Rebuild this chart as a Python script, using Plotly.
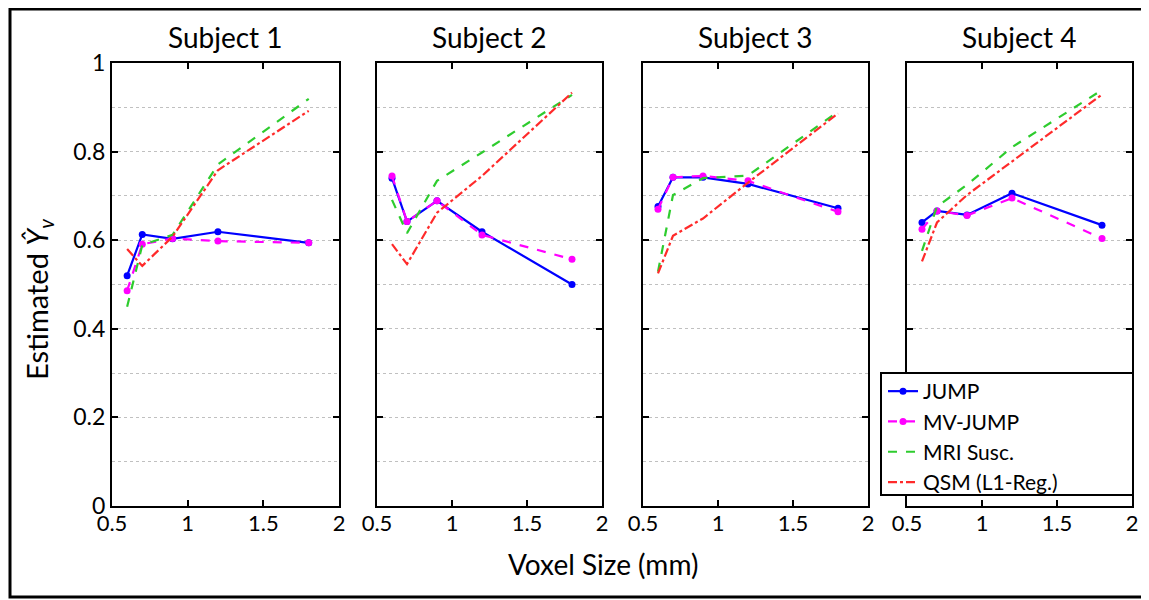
import plotly.graph_objects as go

voxel_size = [0.6, 0.7, 0.9, 1.2, 1.8]
subjects = ["Subject 1", "Subject 2", "Subject 3", "Subject 4"]

jump = [
    [0.520, 0.613, 0.603, 0.619, 0.594],
    [0.740, 0.642, 0.689, 0.619, 0.500],
    [0.676, 0.742, 0.742, 0.727, 0.672],
    [0.640, 0.666, 0.657, 0.706, 0.634],
]
mv_jump = [
    [0.486, 0.591, 0.604, 0.598, 0.594],
    [0.745, 0.642, 0.689, 0.612, 0.557],
    [0.670, 0.742, 0.745, 0.734, 0.664],
    [0.625, 0.666, 0.656, 0.695, 0.604],
]
mri_susc = [
    [0.450, 0.589, 0.612, 0.771, 0.919],
    [0.691, 0.616, 0.734, 0.798, 0.928],
    [0.529, 0.702, 0.740, 0.746, 0.890],
    [0.576, 0.676, 0.725, 0.810, 0.939],
]
qsm = [
    [0.580, 0.542, 0.608, 0.758, 0.892],
    [0.591, 0.546, 0.662, 0.745, 0.933],
    [0.525, 0.610, 0.649, 0.730, 0.886],
    [0.552, 0.640, 0.702, 0.777, 0.929],
]

series_names = ["JUMP", "MV-JUMP", "MRI Susc.", "QSM (L1-Reg.)"]
FONT = "Lato"

# page body has an 8px margin; work in page pixels and convert
OFF = 8
W, H = 1149 - OFF, 600 - OFF
PL, PR, PT, PB = 112, 1132, 63, 506   # plot block in page pixels
L = PL - OFF
T = PT - OFF
R = W - (PR - OFF)
B = H - (PB - OFF)
pw = PR - PL
ph = PB - PT
px_domains = [(112, 339), (377, 602), (643, 868), (907, 1132)]
domains = [((a - PL) / pw, (b - PL) / pw) for a, b in px_domains]

def px_x(v):
    return (v - PL) / pw

def px_y(v):
    return (PB - v) / ph

fig = go.Figure()

styles = [
    dict(color="#0000FF", dash="solid", marker=True),
    dict(color="#FF00FF", dash="dash", marker=True),
    dict(color="#2ECC2E", dash="dash", marker=False),
    dict(color="#FF2A2A", dash="dashdot", marker=False),
]
data_sets = [jump, mv_jump, mri_susc, qsm]

for i in range(4):
    xa = "x" if i == 0 else f"x{i+1}"
    ya = "y" if i == 0 else f"y{i+1}"
    for ds, st, nm in zip(data_sets, styles, series_names):
        fig.add_trace(go.Scatter(
            x=voxel_size, y=ds[i], xaxis=xa, yaxis=ya,
            mode="lines+markers" if st["marker"] else "lines",
            name=nm, legendgroup=nm, showlegend=(i == 3),
            line=dict(color=st["color"], dash=st["dash"], width=2.2),
            marker=dict(size=7, color=st["color"]),
        ))

layout = dict(
    width=W, height=H,
    margin=dict(l=L, r=R, t=T, b=B),
    paper_bgcolor="white", plot_bgcolor="white",
    font=dict(family=FONT, size=22, color="black"),
    showlegend=True,
    legend=dict(
        x=px_x(883), y=px_y(371), xanchor="left", yanchor="top",
        borderwidth=0, bgcolor="rgba(0,0,0,0)",
        font=dict(family=FONT, size=21, color="black"),
        itemwidth=30, tracegroupgap=0,
    ),
)

for i in range(4):
    xk = "xaxis" if i == 0 else f"xaxis{i+1}"
    yk = "yaxis" if i == 0 else f"yaxis{i+1}"
    ya = "y" if i == 0 else f"y{i+1}"
    xa = "x" if i == 0 else f"x{i+1}"
    layout[xk] = dict(
        domain=list(domains[i]), anchor=ya, range=[0.5, 2],
        tickvals=[0.5, 1, 1.5, 2], ticktext=["0.5", "1", "1.5", "2"],
        ticks="inside", ticklen=6, tickcolor="black", tickwidth=1.5,
        showline=True, linecolor="black", linewidth=2, mirror="ticks",
        showgrid=False, zeroline=False, ticklabelstandoff=-3,
        tickfont=dict(family=FONT, size=22, color="black"),
    )
    layout[yk] = dict(
        domain=[0, 1], anchor=xa, range=[0, 1],
        tickvals=[0, 0.2, 0.4, 0.6, 0.8, 1],
        ticktext=["0", "0.2", "0.4", "0.6", "0.8", "1"],
        showticklabels=(i == 0),
        ticks="inside", ticklen=6, tickcolor="black", tickwidth=1.5,
        showline=True, linecolor="black", linewidth=2, mirror="ticks",
        showgrid=True, gridcolor="#C0C0C0", griddash="dot", gridwidth=1,
        minor=dict(dtick=0.1, showgrid=True, gridcolor="#C0C0C0", griddash="dot", gridwidth=1, ticks=""),
        zeroline=False,
        tickfont=dict(family=FONT, size=23, color="black"),
    )

annotations = []
for i, name in enumerate(subjects):
    cx = (domains[i][0] + domains[i][1]) / 2
    annotations.append(dict(
        text=name, x=cx, y=px_y(37), xref="paper", yref="paper",
        showarrow=False, font=dict(family=FONT, size=28, color="black"),
        xanchor="center", yanchor="middle",
    ))
annotations.append(dict(
    text="Voxel Size (mm)", x=px_x(603), y=px_y(564), xref="paper", yref="paper",
    showarrow=False, font=dict(family=FONT, size=28, color="black"),
    xanchor="center", yanchor="middle",
))
annotations.append(dict(
    text="Estimated <i>Ŷ</i><sub><i>v</i></sub>", x=px_x(38), y=px_y(299),
    xref="paper", yref="paper", textangle=-90,
    showarrow=False, font=dict(family=FONT, size=29, color="black"),
    xanchor="center", yanchor="middle",
))
layout["annotations"] = annotations

layout["shapes"] = [
    dict(
        type="rect", xref="paper", yref="paper",
        x0=px_x(10), x1=px_x(1146), y0=px_y(597), y1=px_y(9),
        line=dict(color="black", width=3), fillcolor="rgba(0,0,0,0)", layer="below",
    ),
    dict(
        type="rect", xref="paper", yref="paper",
        x0=px_x(881), x1=px_x(1133), y0=px_y(495), y1=px_y(373),
        line=dict(color="black", width=2), fillcolor="white", layer="above",
    ),
]

fig.update_layout(**layout)
fig.write_html("out.html")
